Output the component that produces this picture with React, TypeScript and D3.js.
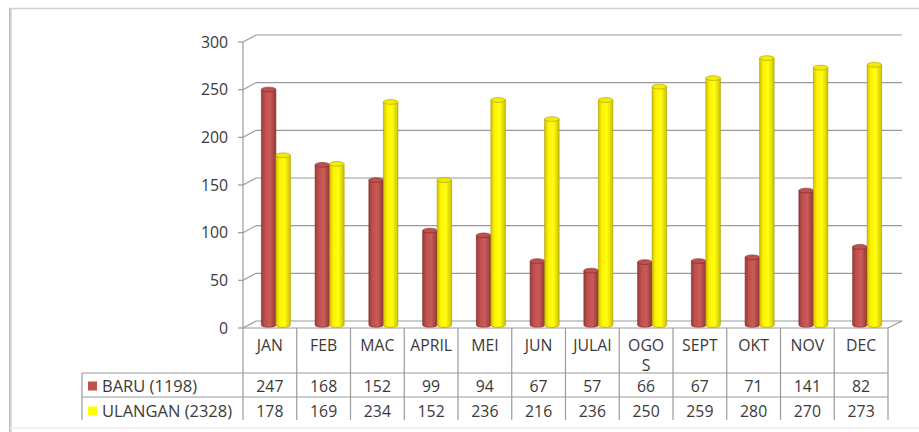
import React from "react";
import * as d3 from "d3";

const months = ["JAN", "FEB", "MAC", "APRIL", "MEI", "JUN", "JULAI", "OGOS", "SEPT", "OKT", "NOV", "DEC"];
const baru = [247, 168, 152, 99, 94, 67, 57, 66, 67, 71, 141, 82];
const ulangan = [178, 169, 234, 152, 236, 216, 236, 250, 259, 280, 270, 273];
const seriesNames = ["BARU (1198)", "ULANGAN (2328)"];
const yTicks = [0, 50, 100, 150, 200, 250, 300];

const W = 919;
const H = 432;
const FONT = "'Open Sans', 'Noto Sans', sans-serif";
const TXT = "#3a3a3a";
const GRID = "#9a9a9a";

export default function App() {
  const x0 = 243, x1 = 888;
  const yFront0 = 328;
  const depthX = 13, depthY = -7;
  const y = d3.scaleLinear().domain([0, 300]).range([yFront0, 42]);
  const x = d3.scaleBand<string>().domain(months).range([x0, x1]);
  const bw = x.bandwidth();
  const barW = 14.5;
  const barDx = 6, barDy = -3;
  const rx = barW / 2, ry = 2.4;
  const legendX = 82;
  const row1 = 328, row2 = 373, row3 = 397, row4 = 420;
  const fs = 15.8;

  const cyl = (cx: number, v: number, grad: string, cap: string, stroke: string, key: string) => {
    const top = y(v) + barDy;
    const bot = yFront0 + barDy;
    const l = cx - rx, r = cx + rx;
    const body = `M${l},${top} L${l},${bot} A${rx},${ry} 0 0 0 ${r},${bot} L${r},${top} Z`;
    return (
      <g key={key}>
        <path d={body} fill={`url(#${grad})`} stroke={stroke} strokeWidth={0.6} />
        <ellipse cx={cx} cy={top} rx={rx} ry={ry} fill={cap} stroke={stroke} strokeWidth={0.6} />
      </g>
    );
  };

  const monthLines = (m: string) => (m === "OGOS" ? ["OGO", "S"] : [m]);

  return (
    <svg width={W} height={H} style={{ position: "absolute", left: 0, top: 0, background: "#fff" }} fontFamily={FONT}>
      <defs>
        <linearGradient id="gRed" x1="0" x2="1" y1="0" y2="0">
          <stop offset="0" stopColor="#9a3b39" />
          <stop offset="0.25" stopColor="#c0504d" />
          <stop offset="0.6" stopColor="#c85c59" />
          <stop offset="1" stopColor="#953634" />
        </linearGradient>
        <linearGradient id="gYel" x1="0" x2="1" y1="0" y2="0">
          <stop offset="0" stopColor="#d2c400" />
          <stop offset="0.25" stopColor="#fff200" />
          <stop offset="0.6" stopColor="#ffff10" />
          <stop offset="1" stopColor="#cfc000" />
        </linearGradient>
        <linearGradient id="frameShade" x1="0" x2="1">
          <stop offset="0" stopColor="#b5b5b5" />
          <stop offset="1" stopColor="#e8e8e8" />
        </linearGradient>
      </defs>

      {/* frame */}
      <line x1={10} x2={W} y1={8.5} y2={8.5} stroke="#d0d0d0" strokeWidth={1.5} />
      <rect x={9} y={8} width={3} height={H - 8} fill="url(#frameShade)" />
      <line x1={10} x2={W} y1={428} y2={428} stroke="#ececec" strokeWidth={1.5} />

      {/* back wall gridlines and side diagonals */}
      {yTicks.map((t) => (
        <g key={`g${t}`}>
          {t > 0 && (
            <line x1={x0 + depthX} x2={x1 + depthX + 1} y1={y(t) + depthY} y2={y(t) + depthY} stroke={GRID} strokeWidth={1.2} />
          )}
          <line x1={x0} x2={x0 + depthX} y1={y(t)} y2={y(t) + depthY} stroke={GRID} strokeWidth={1.2} />
          <line x1={x0 - 5} x2={x0} y1={y(t)} y2={y(t)} stroke={GRID} strokeWidth={1.2} />
          <text x={228} y={y(t)} dy="0.35em" textAnchor="end" fontSize={fs} fill={TXT}>
            {t}
          </text>
        </g>
      ))}
      {/* floor */}
      <line x1={x0 + depthX} x2={x1 + depthX + 1} y1={yFront0 + depthY} y2={yFront0 + depthY} stroke={GRID} strokeWidth={1.2} />
      <line x1={x1 + depthX + 1} x2={x1} y1={yFront0 + depthY} y2={yFront0} stroke={GRID} strokeWidth={1.2} />
      {/* y axis */}
      <line x1={x0} x2={x0} y1={y(300)} y2={row4} stroke={GRID} strokeWidth={1.2} />

      {/* bars */}
      {months.map((m, i) => {
        const c = (x(m) as number) + bw / 2 + barDx;
        return (
          <g key={`b${m}`}>
            {cyl(c - rx, baru[i], "gRed", "#c0504d", "#7a2a28", `r${m}`)}
            {cyl(c + rx, ulangan[i], "gYel", "#f4ec00", "#a89c00", `y${m}`)}
          </g>
        );
      })}

      {/* data table */}
      <g stroke={GRID} strokeWidth={1.2}>
        <line x1={x0} x2={x1} y1={row1} y2={row1} />
        <line x1={legendX} x2={x1} y1={row2} y2={row2} />
        <line x1={legendX} x2={x1} y1={row3} y2={row3} />
        <line x1={legendX} x2={legendX} y1={row2} y2={row4} />
        {months.map((m) => (
          <line key={`v${m}`} x1={(x(m) as number) + bw} x2={(x(m) as number) + bw} y1={row1} y2={row4} />
        ))}
      </g>
      {months.map((m) => {
        const cx = (x(m) as number) + bw / 2;
        return (
          <text key={`t${m}`} fontSize={fs} fill={TXT} textAnchor="middle" x={cx} y={345.5}>
            {monthLines(m).map((s, k) => (
              <tspan key={k} x={cx} dy={k === 0 ? "0.35em" : "19.5"}>
                {s}
              </tspan>
            ))}
          </text>
        );
      })}
      {[baru, ulangan].map((arr, si) => (
        <g key={`row${si}`} fontSize={fs} fill={TXT} textAnchor="middle">
          {months.map((m, i) => (
            <text key={m} x={(x(m) as number) + bw / 2} y={si === 0 ? 386 : 411} dy="0.35em">
              {arr[i]}
            </text>
          ))}
        </g>
      ))}
      {seriesNames.map((n, si) => {
        const cy = si === 0 ? 386 : 411;
        return (
          <g key={n}>
            <rect x={88} y={cy - 4.5} width={9} height={9} fill={si === 0 ? "#c0504d" : "#ffff00"} />
            <text x={102} y={cy} dy="0.35em" fontSize={16.5} fill={TXT}>
              {n}
            </text>
          </g>
        );
      })}
    </svg>
  );
}
